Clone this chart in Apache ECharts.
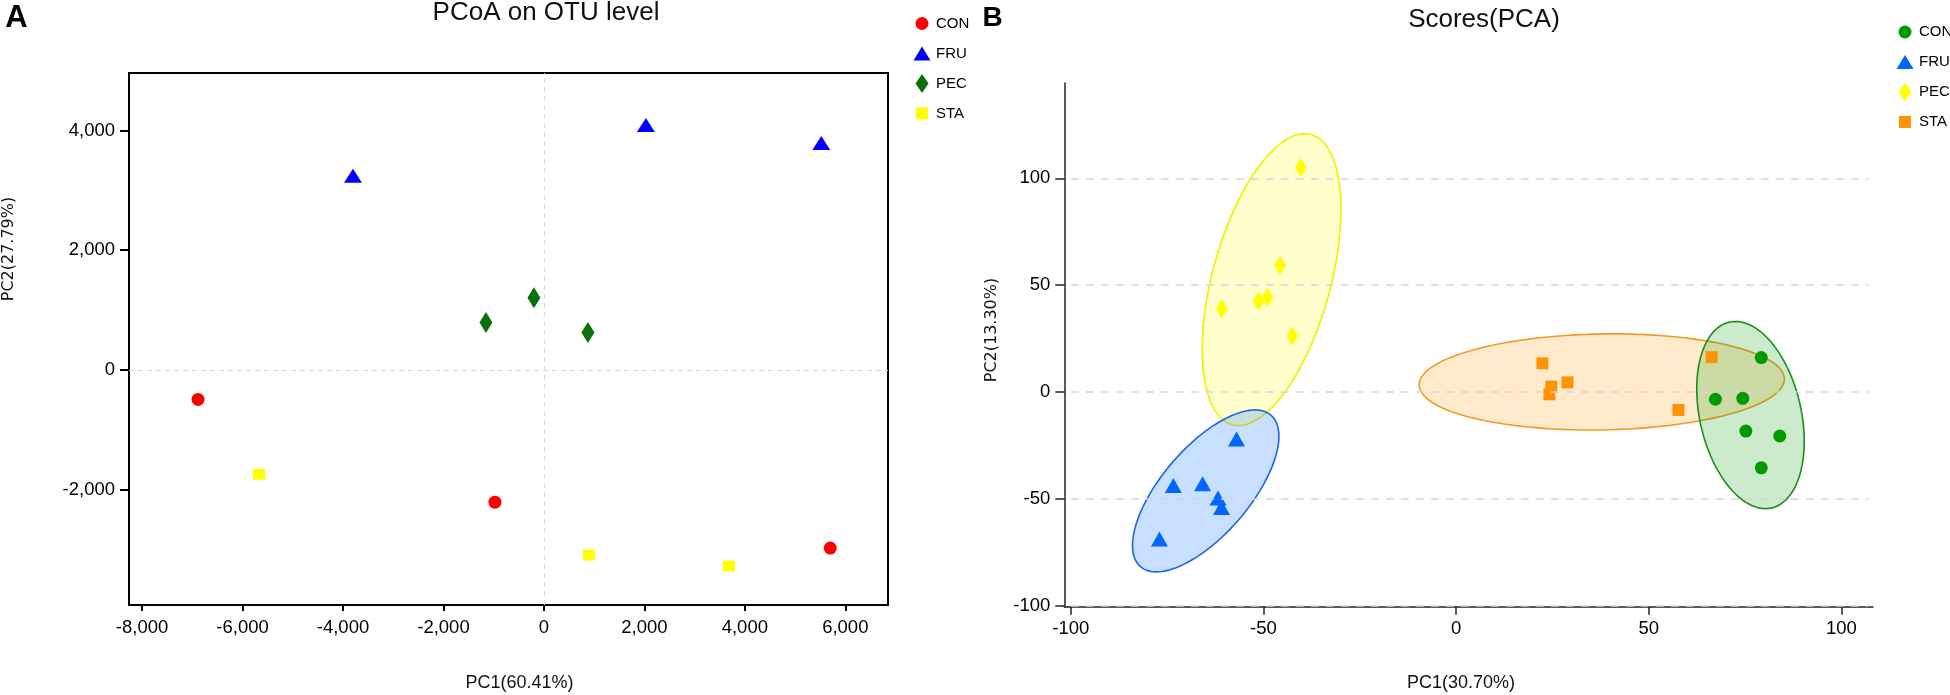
<!DOCTYPE html>
<html>
<head>
<meta charset="utf-8">
<title>PCoA / PCA scores</title>
<script src="https://cdn.jsdelivr.net/npm/echarts@6/dist/echarts.min.js"></script>
<style>
    html, body { margin: 0; padding: 0; background: #fff; }
    #chart { width: 1950px; height: 695px; }
</style>
</head>
<body>
<div id="chart"></div>
<script>
// groups shared by both panels
const groups = ['CON', 'FRU', 'PEC', 'STA'];

// panel A - PCoA on OTU level, one [PC1, PC2] per sample
const pcoaCON = [[-6886, -492], [-975, -2208], [5701, -2975]];
const pcoaFRU = [[-3801, 3242], [2030, 4092], [5522, 3792]];
const pcoaPEC = [[-199, 1208], [-1154, 792], [876, 625]];
const pcoaSTA = [[-5672, -1742], [896, -3092], [3682, -3275]];
const pcoaTicksX = [-8000, -6000, -4000, -2000, 0, 2000, 4000, 6000];
const pcoaTicksY = [-2000, 0, 2000, 4000];

// panel B - PCA scores
const pcaCON = [[79.2, 16.1], [67.3, -3.4], [74.4, -3.0], [75.2, -18.3], [84.0, -20.6], [79.2, -35.5]];
const pcaFRU = [[-57.0, -22.0], [-73.4, -43.8], [-65.8, -43.0], [-61.8, -49.6], [-60.9, -54.1], [-77.0, -68.8]];
const pcaPEC = [[-40.3, 105.0], [-45.7, 59.2], [-60.8, 38.9], [-51.3, 42.6], [-49.0, 44.2], [-42.5, 26.2]];
const pcaSTA = [[22.4, 13.4], [24.7, 2.5], [24.2, -1.1], [28.9, 4.5], [57.7, -8.4], [66.3, 16.3]];
// group ellipses: [centre x, centre y, offset to top point x, offset to top point y, half width]
const ellipseCON = [76.4, -10.8, -3.9, 43.8, 13.95];
const ellipseFRU = [-65.0, -46.3, 12.8, 37.9, 19.0];
const ellipsePEC = [-47.9, 52.6, 8.6, 68.3, 18.0];
const ellipseSTA = [37.8, 4.7, 2.9, 22.5, 47.4];
const pcaTicksX = [-100, -50, 0, 50, 100];
const pcaTicksY = [-100, -50, 0, 50, 100];

const FONT = 'Liberation Sans, Arial, sans-serif';

const colorsA = {CON: '#ff0000', FRU: '#0000ff', PEC: '#0b700b', STA: '#ffff00'};
const colorsB = {CON: '#009a00', FRU: '#0066ff', PEC: '#ffff00', STA: '#ff9400'};
const strokeB = {CON: '#1a8f1a', FRU: '#1a66e6', PEC: '#f0f000', STA: '#f39a25'};
const fillB = {
    CON: 'rgba(0,154,0,0.2)',
    FRU: 'rgba(0,102,255,0.21)',
    PEC: 'rgba(255,255,0,0.2)',
    STA: 'rgba(255,148,0,0.2)'
};
const shapes = {CON: 'circle', FRU: 'triangle', PEC: 'diamond', STA: 'rect'};
const sizesA = {CON: 13, FRU: [18, 14], PEC: [13, 21], STA: [12, 11]};
const sizesB = {CON: 13, FRU: [17, 15], PEC: [12, 19], STA: [12, 12]};

// legend icons drawn in an 18x20 box (the two moves keep the box fixed)
const legendIcons = {
    CON: 'path://M0,0M18,20M15.5,10A6.5,6.5,0,1,1,2.5,10A6.5,6.5,0,1,1,15.5,10Z',
    FRU: 'path://M0,0M18,20M9,3L17.5,17L0.5,17Z',
    PEC: 'path://M0,0M18,20M9,0.5L15.5,10L9,19.5L2.5,10Z',
    STA: 'path://M0,0M18,20M3,4L15,4L15,16L3,16Z'
};

const pcoaData = {CON: pcoaCON, FRU: pcoaFRU, PEC: pcoaPEC, STA: pcoaSTA};
const pcaData = {CON: pcaCON, FRU: pcaFRU, PEC: pcaPEC, STA: pcaSTA};
const pcaEllipse = {CON: ellipseCON, FRU: ellipseFRU, PEC: ellipsePEC, STA: ellipseSTA};

const ellipseItem = function (stroke, fill) {
    return function (params, api) {
        const cx = api.value(0), cy = api.value(1);
        const ax = api.value(2), ay = api.value(3), half = api.value(4);
        const bx = Math.sqrt(Math.max(half * half - ax * ax, 0));
        const points = [];
        for (let i = 0; i < 120; i++) {
            const t = i / 120 * Math.PI * 2;
            points.push(api.coord([cx + ax * Math.cos(t) + bx * Math.sin(t), cy + ay * Math.cos(t)]));
        }
        return {type: 'polygon', shape: {points: points}, style: {fill: fill, stroke: stroke, lineWidth: 1.6}};
    };
};

const gridLine = {color: '#d6d6d6', type: [8, 7], width: 1.5};

let series = [];

// zero lines of panel A
series.push({
    type: 'scatter', xAxisIndex: 0, yAxisIndex: 0, data: [], z: 0, silent: true,
    markLine: {
        silent: true, symbol: ['none', 'none'], label: {show: false},
        lineStyle: {color: '#d8d8d8', type: [5, 4], width: 1},
        data: [{xAxis: 0}, {yAxis: 0}]
    }
});
groups.forEach(function (g) {
    series.push({
        name: g, type: 'scatter', xAxisIndex: 0, yAxisIndex: 0, z: 3,
        symbol: shapes[g], symbolSize: sizesA[g],
        itemStyle: {color: colorsA[g], opacity: 1},
        data: pcoaData[g]
    });
});

// horizontal dashed grid of panel B, starting at the first x tick
series.push({
    type: 'scatter', xAxisIndex: 1, yAxisIndex: 1, data: [], z: 0, silent: true,
    markLine: {
        silent: true, symbol: ['none', 'none'], label: {show: false},
        lineStyle: gridLine,
        data: pcaTicksY.map(v => [{xAxis: pcaTicksX[0], yAxis: v}, {xAxis: 107, yAxis: v}])
    }
});
// ellipses: STA and PEC first, CON and FRU over them
['STA', 'PEC', 'FRU', 'CON'].forEach(function (g) {
    series.push({
        name: 'ellipse ' + g, type: 'custom', xAxisIndex: 1, yAxisIndex: 1, z: 1, silent: true,
        renderItem: ellipseItem(strokeB[g], fillB[g]),
        data: [pcaEllipse[g]]
    });
});
groups.forEach(function (g) {
    series.push({
        name: 'B ' + g, type: 'scatter', xAxisIndex: 1, yAxisIndex: 1, z: 3,
        symbol: shapes[g], symbolSize: sizesB[g],
        itemStyle: {color: colorsB[g], opacity: 1},
        data: pcaData[g]
    });
});

const valueAxis = function (grid, min, max, ticks, fmt, color, width, tickLen, margin) {
    return {
        type: 'value', gridIndex: grid, min: min, max: max,
        axisLine: {show: true, onZero: false, lineStyle: {color: color, width: width}},
        axisTick: {show: true, length: tickLen, customValues: ticks, lineStyle: {color: color, width: width}},
        axisLabel: {customValues: ticks, formatter: fmt, fontSize: 18.5, fontFamily: FONT, color: '#000', margin: margin},
        splitLine: {show: false}
    };
};
const thousands = v => Number(v).toLocaleString('en-US');

const legendBase = {
    orient: 'vertical', itemWidth: 18, itemHeight: 20, itemGap: 10,
    textStyle: {fontSize: 15, fontFamily: FONT, color: '#000'},
    selectedMode: false
};

const option = {
    animation: false,
    backgroundColor: '#fff',
    grid: [
        {left: 129, right: 1062, top: 73, bottom: 90, show: true, borderColor: '#000', borderWidth: 2},
        {left: 1064.3, right: 77, top: 83, bottom: 88.3}
    ],
    xAxis: [
        valueAxis(0, -8260, 6850, pcoaTicksX, thousands, '#000', 2, 6, 13),
        valueAxis(1, -101.7, 108.2, pcaTicksX, v => String(v), '#222', 1.5, 8, 13)
    ],
    yAxis: [
        valueAxis(0, -3925, 4960, pcoaTicksY, thousands, '#000', 2, 9, 14),
        valueAxis(1, -100.5, 144.6, pcaTicksY, v => String(v), '#222', 1.5, 9, 14)
    ],
    legend: [
        Object.assign({}, legendBase, {
            left: 908, top: 8.5,
            data: groups.map(g => ({name: g, icon: legendIcons[g]}))
        }),
        Object.assign({}, legendBase, {
            left: 1891, top: 17,
            data: groups.map(g => ({name: 'B ' + g, icon: legendIcons[g]})),
            formatter: name => name.replace('B ', '')
        })
    ],
    graphic: [
        {type: 'text', x: 16.5, y: 18.5, style: {text: 'A', font: 'bold 31px ' + FONT, fill: '#000', textAlign: 'center', textVerticalAlign: 'middle'}},
        {type: 'text', x: 992.5, y: 18, style: {text: 'B', font: 'bold 28px ' + FONT, fill: '#000', textAlign: 'center', textVerticalAlign: 'middle'}},
        {type: 'text', x: 546, y: 12.5, style: {text: 'PCoA on OTU level', font: '26px ' + FONT, fill: '#111', textAlign: 'center', textVerticalAlign: 'middle'}},
        {type: 'text', x: 1484, y: 20, style: {text: 'Scores(PCA)', font: '26px ' + FONT, fill: '#111', textAlign: 'center', textVerticalAlign: 'middle'}},
        {type: 'text', x: 519.5, y: 683, style: {text: 'PC1(60.41%)', font: '18px ' + FONT, fill: '#111', textAlign: 'center', textVerticalAlign: 'middle'}},
        {type: 'text', x: 1461, y: 683, style: {text: 'PC1(30.70%)', font: '18px ' + FONT, fill: '#111', textAlign: 'center', textVerticalAlign: 'middle'}},
        {type: 'text', x: 9, y: 249, rotation: Math.PI / 2, style: {text: 'PC2(27.79%)', font: '16px DejaVu Sans, sans-serif', fill: '#111', textAlign: 'center', textVerticalAlign: 'middle'}},
        {type: 'text', x: 992, y: 330, rotation: Math.PI / 2, style: {text: 'PC2(13.30%)', font: '16px DejaVu Sans, sans-serif', fill: '#111', textAlign: 'center', textVerticalAlign: 'middle'}}
    ],
    series: series
};

const chart = echarts.init(document.getElementById('chart'));
chart.setOption(option);
</script>
</body>
</html>
